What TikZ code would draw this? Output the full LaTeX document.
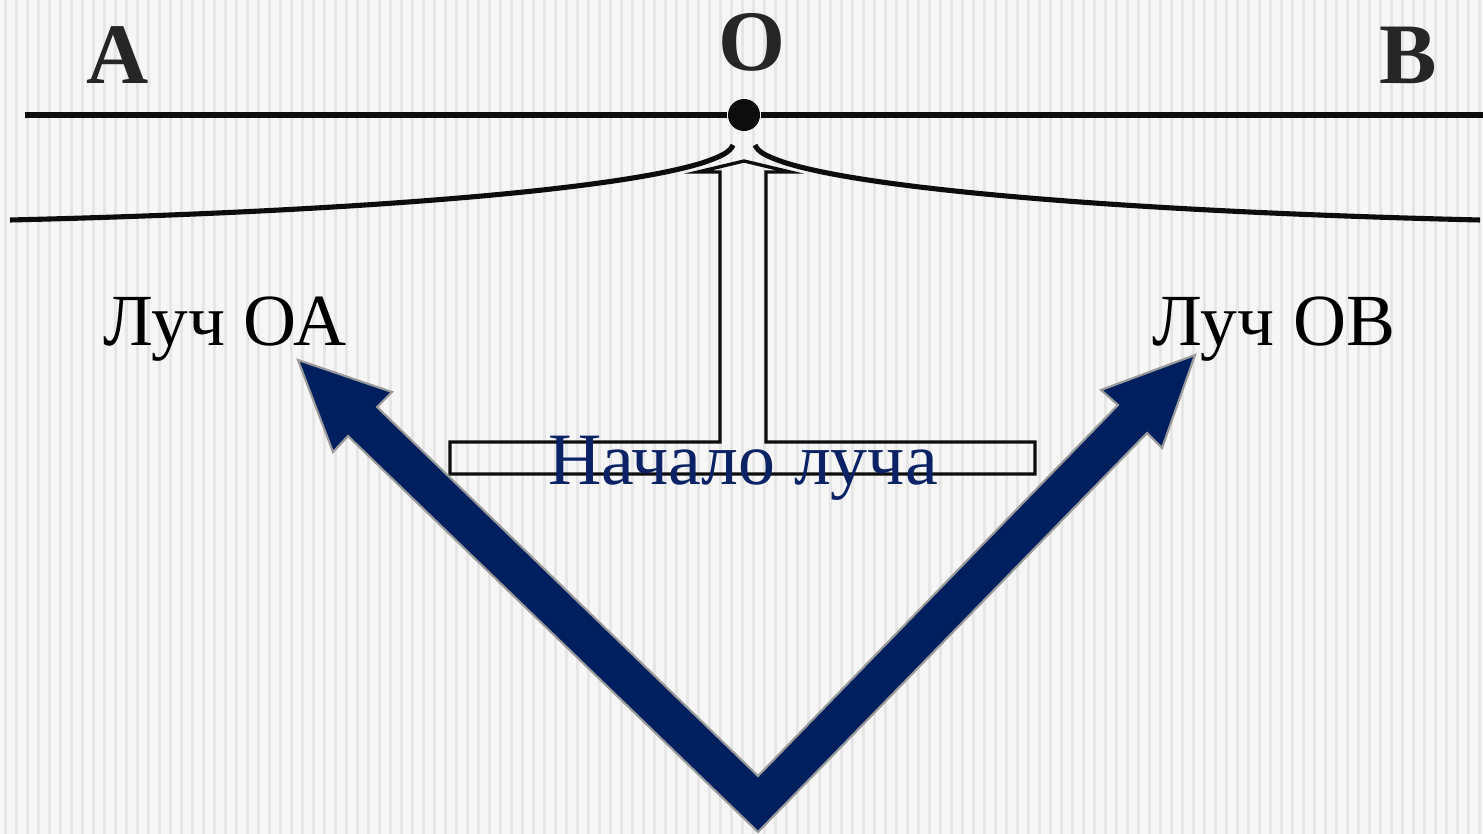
\documentclass[tikz,border=0pt]{standalone}
\usepackage{fontspec}
\setmainfont{Liberation Serif}
\definecolor{raynavy}{HTML}{001F5F}
\definecolor{raytext}{HTML}{0B2265}
\definecolor{rayrim}{HTML}{9A9A9A}
\definecolor{paper}{HTML}{F6F6F6}
\definecolor{stripe}{HTML}{E6E6E6}
\begin{document}
\begin{tikzpicture}[x=0.01cm, y=-0.01cm,
	pt/.style = {font=\bfseries\fontsize{24.5}{28}\selectfont, text=black!85, anchor=base, inner sep=0},
	ray/.style = {font=\fontsize{20.9}{25}\selectfont, anchor=base, inner sep=0},
	hint/.style = {font=\fontsize{21}{25}\selectfont, text=raytext, anchor=base, inner sep=0},
	l/.style = {line width=1.45pt, black!95},
	arm/.style = {line width=1.45pt, black!95},
	box/.style = {line width=0.95pt, black!95, line join=miter},
	big/.style = {fill=raynavy, draw=rayrim, line width=0.6pt, line join=miter}
	]
	
	%Background
	\fill[paper] (0,0) rectangle (1483,834);
	\foreach \x in {4,15,...,1483} \fill[stripe] (\x,0) rectangle ++(3,834);
	\useasboundingbox (0,0) rectangle (1483,834);
	
	%Nodes
	\node[pt]	(A)		at	(118, 84)	{A};
	\node[pt]	(O)		at	(752, 71)	{O};
	\node[pt]	(B)		at	(1408, 84)	{B};
	\node[circle, fill=black!95, inner sep=0, minimum size=0.32cm]	(o)	at	(744, 115)	{};
	
	\coordinate	(lineA)	at	(25, 115);
	\coordinate	(lineB)	at	(1483, 115);
	
	\node[ray]	(OA)	at	(225, 346)	{Луч ОА};
	\node[ray]	(OB)	at	(1274, 346)	{Луч ОВ};
	
	%Lines
	\draw[l]	(lineA)	--	(o)	--	(lineB);
	\draw[arm]	(10, 220) .. controls (350, 212) and (620, 190) .. (705, 162)
		.. controls (722, 156) and (730, 152) .. (733, 145);
	\draw[arm]	(1480, 220) .. controls (1138, 212) and (868, 190) .. (783, 162)
		.. controls (766, 156) and (758, 152) .. (755, 145);
	
	%Callout
	\draw[box]	(450, 442) -- (720, 442) -- (720, 172) -- (698, 172) -- (744, 161)
		-- (790, 172) -- (766, 172) -- (766, 442) -- (1035, 442) -- (1035, 474)
		-- (450, 474) -- cycle;
	\node[hint]	(start)	at	(743, 485)	{Начало луча};
	
	%Arrows
	\draw[big]	(758, 832) -- (348, 436) -- (333, 452) -- (298, 360) -- (392, 392)
		-- (377, 407) -- (758, 776) -- (1118, 405) -- (1101, 390) -- (1195, 355)
		-- (1162, 448) -- (1147, 433) -- cycle;
\end{tikzpicture}
\end{document}
